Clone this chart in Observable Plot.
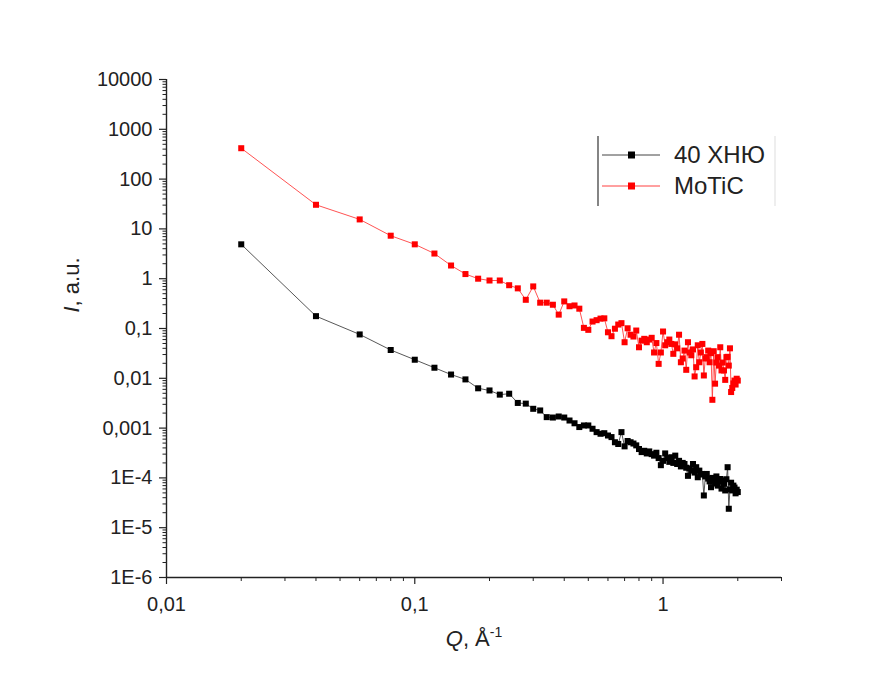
<!DOCTYPE html>
<html>
<head>
<meta charset="utf-8">
<script src="https://cdn.jsdelivr.net/npm/d3@7"></script>
<script src="https://cdn.jsdelivr.net/npm/@observablehq/plot@0.6"></script>
<style>
  html, body { margin: 0; padding: 0; background: #fff; }
  #chart { width: 892px; height: 684px; }
</style>
</head>
<body>
<div id="chart"></div>
<script>
// Scattering vector Q (Å^-1)
const Q = [0.02,0.04,0.06,0.08,0.10,0.12,0.14,0.16,0.18,0.20,
  0.22,0.24,0.26,0.28,0.30,0.32,0.34,0.36,0.38,0.40,
  0.42,0.44,0.46,0.48,0.50,0.52,0.54,0.56,0.58,0.60,
  0.62,0.64,0.66,0.68,0.70,0.72,0.74,0.76,0.78,0.80,
  0.82,0.84,0.86,0.88,0.90,0.92,0.94,0.96,0.98,1.00,
  1.02,1.04,1.06,1.08,1.10,1.12,1.14,1.16,1.18,1.20,
  1.22,1.24,1.26,1.28,1.30,1.32,1.34,1.36,1.38,1.40,
  1.42,1.44,1.46,1.48,1.50,1.52,1.54,1.56,1.58,1.60,
  1.62,1.64,1.66,1.68,1.70,1.72,1.74,1.76,1.78,1.80,
  1.82,1.84,1.86,1.88,1.90,1.92,1.94,1.96,1.98,2.00];

// Series "40 ХНЮ" (black)
const khnyu = [4.9,0.177,0.076,0.037,0.0236,0.0163,0.0119,0.0095,0.0063,0.0057,
  0.0047,0.0049,0.0032,0.0031,0.00244,0.00226,0.00166,0.00163,0.00171,0.00163,
  0.00142,0.00125,0.00105,0.00113,0.00113,0.00097,0.00083,0.00077,0.00079,0.00071,
  0.00066,0.00052,0.00048,0.00083,0.00043,0.00055,0.00052,0.00049,0.00045,0.00038,
  0.00033,0.00035,0.00031,0.00034,0.00030,0.00028,0.00032,0.00025,0.00018,0.00022,
  0.00031,0.00025,0.00021,0.00026,0.00020,0.00028,0.00019,0.00022,0.00017,0.00020,
  0.00019,0.00016,0.00011,0.000155,0.00014,0.00019,0.000128,0.000164,0.000103,0.00014,
  0.000117,0.00012,0.0000444,0.000107,0.00012,0.000097,0.000085,0.000065,0.0001,0.000089,
  0.000077,0.000107,0.00007,0.000085,0.000095,0.000061,0.000089,0.000076,0.000056,0.000094,
  0.000164,0.000024,0.000059,0.00008,0.000056,0.00007,0.000064,0.000049,0.000058,0.000052];

// Series "MoTiC" (red)
const motic = [417,30.5,15.5,7.3,4.9,3.2,1.84,1.24,1.0,0.92,
  0.92,0.74,0.64,0.377,0.70,0.33,0.33,0.30,0.19,0.35,
  0.28,0.29,0.25,0.103,0.094,0.138,0.147,0.158,0.16,0.084,
  0.070,0.099,0.12,0.128,0.053,0.101,0.075,0.069,0.091,0.042,
  0.057,0.062,0.053,0.060,0.065,0.033,0.051,0.0195,0.033,0.087,
  0.046,0.053,0.060,0.049,0.031,0.048,0.040,0.075,0.021,0.025,
  0.036,0.0148,0.053,0.033,0.029,0.038,0.0109,0.0167,0.046,0.021,
  0.033,0.049,0.0114,0.025,0.0266,0.036,0.021,0.032,0.0037,0.035,
  0.0078,0.0207,0.0266,0.018,0.042,0.0144,0.0207,0.0144,0.0093,0.0266,
  0.027,0.018,0.040,0.0053,0.0064,0.0079,0.009,0.0075,0.0098,0.009];

const seriesNames = ["40 ХНЮ", "MoTiC"];
const seriesColors = ["#000000", "#ff0000"];

// Axis ticks
const yTicks = [1e-6,1e-5,1e-4,1e-3,1e-2,1e-1,1,10,100,1000,10000];
const yTickLabels = ["1E-6","1E-5","1E-4","0,001","0,01","0,1","1","10","100","1000","10000"];
const xTicks = [0.01, 0.1, 1];
const xTickLabels = ["0,01", "0,1", "1"];
const xMinor = [0.02,0.03,0.04,0.05,0.06,0.07,0.08,0.09,0.2,0.3,0.4,0.5,0.6,0.7,0.8,0.9,2,3];
const yMinor = [];
for (let e = -6; e < 4; e++) for (let m = 2; m <= 9; m++) yMinor.push(m * Math.pow(10, e));

const rowsK = Q.map((q, i) => ({q, v: khnyu[i]}));
const rowsM = Q.map((q, i) => ({q, v: motic[i]}));

function fmt(ticks, labels) {
  return d => {
    const i = ticks.findIndex(t => Math.abs(Math.log10(t) - Math.log10(d)) < 1e-6);
    return i >= 0 ? labels[i] : "";
  };
}

const axisColor = "#222";
const plot = Plot.plot({
  width: 892,
  height: 684,
  marginLeft: 166,
  marginRight: 111,
  marginTop: 79,
  marginBottom: 107,
  x: {type: "log", domain: [0.01, 3]},
  y: {type: "log", domain: [1e-6, 1e4]},
  style: {fontFamily: "'Liberation Sans', Arial, sans-serif", fontSize: "20px", color: axisColor, background: "#fff"},
  marks: [
    Plot.axisY(yMinor, {tickSize: 3.5, tickFormat: () => "", label: null, stroke: axisColor, strokeWidth: 1}),
    Plot.axisY(yTicks, {tickSize: 7, tickPadding: 7, tickFormat: fmt(yTicks, yTickLabels), label: null, stroke: axisColor, strokeWidth: 1.2}),
    Plot.axisX(xMinor, {tickSize: 4, tickFormat: () => "", label: null, stroke: axisColor, strokeWidth: 1}),
    Plot.axisX(xTicks, {tickSize: 7, tickPadding: 12, tickFormat: fmt(xTicks, xTickLabels), label: null, stroke: axisColor, strokeWidth: 1.2}),
    Plot.ruleX([0.01], {stroke: axisColor, strokeWidth: 1.4}),
    Plot.ruleY([1e-6], {stroke: axisColor, strokeWidth: 1.4}),
    Plot.line(rowsK, {x: "q", y: "v", stroke: "#444", strokeWidth: 0.9}),
    Plot.dot(rowsK, {x: "q", y: "v", symbol: "square", r: 3.4, fill: seriesColors[0], stroke: "none"}),
    Plot.line(rowsM, {x: "q", y: "v", stroke: "#ff4040", strokeWidth: 0.9}),
    Plot.dot(rowsM, {x: "q", y: "v", symbol: "square", r: 3.4, fill: seriesColors[1], stroke: "none"})
  ]
});

document.getElementById("chart").appendChild(plot);

// Axis titles and legend
const svg = d3.select(plot);
const font = "'Liberation Sans', Arial, sans-serif";

const yl = svg.append("text")
  .attr("transform", "translate(79,285) rotate(-90)")
  .attr("text-anchor", "middle")
  .attr("font-family", font).attr("font-size", 22).attr("fill", "#222");
yl.append("tspan").attr("font-style", "italic").text("I");
yl.append("tspan").text(", a.u.");

const xl = svg.append("text")
  .attr("x", 474).attr("y", 646)
  .attr("text-anchor", "middle")
  .attr("font-family", font).attr("font-size", 22).attr("fill", "#222");
xl.append("tspan").attr("font-style", "italic").text("Q");
xl.append("tspan").text(", Å");
xl.append("tspan").attr("font-size", 14).attr("dy", -9).text("-1");

const lg = svg.append("g");
lg.append("line").attr("x1", 598).attr("x2", 598).attr("y1", 136).attr("y2", 206).attr("stroke", "#333").attr("stroke-width", 1.2);
lg.append("line").attr("x1", 775).attr("x2", 775).attr("y1", 136).attr("y2", 206).attr("stroke", "#ddd").attr("stroke-width", 1);
seriesNames.forEach((name, i) => {
  const cy = 155 + i * 31;
  lg.append("line").attr("x1", 602).attr("x2", 660).attr("y1", cy).attr("y2", cy)
    .attr("stroke", i === 0 ? "#444" : "#ff4040").attr("stroke-width", 1);
  lg.append("rect").attr("x", 628).attr("y", cy - 3.5).attr("width", 7).attr("height", 7).attr("fill", seriesColors[i]);
  lg.append("text").attr("x", 674).attr("y", cy + 8)
    .attr("text-anchor", "start")
    .attr("font-family", font).attr("font-size", 24).attr("fill", "#222").text(name);
});
</script>
</body>
</html>
